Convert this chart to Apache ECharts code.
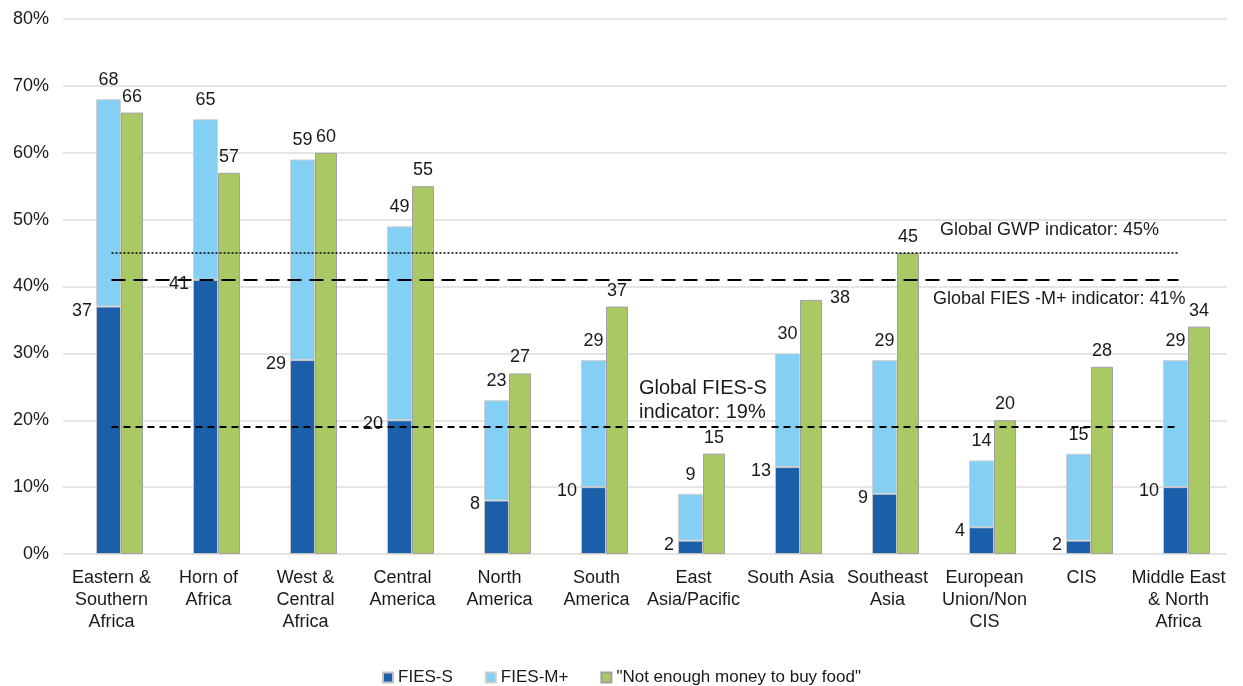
<!DOCTYPE html>
<html>
<head>
<meta charset="utf-8">
<script src="https://cdn.jsdelivr.net/npm/echarts@6/dist/echarts.min.js"></script>
<style>
  html, body { margin: 0; padding: 0; background: #ffffff; }
  #chart { width: 1243px; height: 686px; }
</style>
</head>
<body>
<div id="chart"></div>
<script>
// Regions shown along the category axis (line breaks as printed)
const regions = [
  'Eastern &\nSouthern\nAfrica',
  'Horn of\nAfrica',
  'West &\nCentral\nAfrica',
  'Central\nAmerica',
  'North\nAmerica',
  'South\nAmerica',
  'East\nAsia/Pacific',
  'South Asia',
  'Southeast\nAsia',
  'European\nUnion/Non\nCIS',
  'CIS',
  'Middle East\n& North\nAfrica'
];

// Prevalence of severe food insecurity (FIES-S), %
const fiesS = [37, 41, 29, 20, 8, 10, 2, 13, 9, 4, 2, 10];
// Prevalence of moderate-or-severe food insecurity (FIES-M+), %
const fiesM = [68, 65, 59, 49, 23, 29, 9, 30, 29, 14, 15, 29];
// Share answering "Not enough money to buy food", %
const noMoney = [66, 57, 60, 55, 27, 37, 15, 38, 45, 20, 28, 34];

// Global reference levels, %
const globalGWP = 45;
const globalFiesM = 41;
const globalFiesS = 19;

// Y axis ticks
const yMin = 0, yMax = 80, yStep = 10;

const FONT = '"Liberation Sans", Arial, sans-serif';
const INK = '#1a1a1a';

// Moderate part of the stack = FIES-M+ minus FIES-S, so the stack tops at FIES-M+
const moderateOnly = fiesM.map((v, i) => v - fiesS[i]);

// South Asia's green label sits to the right of its bar
const greenData = noMoney.map((v, i) => {
  if (i === 7) {
    return {
      value: v,
      label: { position: ['100%', 0], offset: [8, -2], align: 'left', verticalAlign: 'middle' }
    };
  }
  return v;
});

const first = regions[0], last = regions[regions.length - 1];
const refLine = (val, type, width) => ([
  { coord: [first, val], lineStyle: { type: type, width: width, color: '#000' } },
  { coord: [last, val] }
]);

const chart = echarts.init(document.getElementById('chart'), null, { renderer: 'canvas' });

chart.setOption({
  animation: false,
  textStyle: { fontFamily: FONT, color: INK },
  grid: { left: 63, right: 16, top: 19, bottom: 132, containLabel: false },
  legend: {
    data: ['FIES-S', 'FIES-M+', '"Not enough money to buy food"'],
    top: 664,
    left: 'center',
    icon: 'rect',
    itemWidth: 10,
    itemHeight: 10,
    itemGap: 32,
    textStyle: { fontFamily: FONT, fontSize: 17, color: INK }
  },
  xAxis: {
    type: 'category',
    data: regions,
    axisLine: { show: false },
    axisTick: { show: false },
    axisLabel: {
      interval: 0,
      margin: 13,
      fontFamily: FONT,
      fontSize: 18,
      lineHeight: 22,
      color: INK,
      align: 'center'
    }
  },
  yAxis: {
    type: 'value',
    min: yMin,
    max: yMax,
    interval: yStep,
    axisLine: { show: false },
    axisTick: { show: false },
    axisLabel: {
      formatter: '{value}%',
      margin: 14,
      fontFamily: FONT,
      fontSize: 18,
      color: INK
    },
    splitLine: { lineStyle: { color: '#dddddd', width: 1.5 } }
  },
  series: [
    {
      // empty leading slot: shifts the bar pair to the right within each category
      name: 'slot',
      type: 'bar',
      data: [],
      barWidth: 16,
      barGap: '0%',
      silent: true
    },
    {
      name: 'FIES-S',
      type: 'bar',
      stack: 'fies',
      data: fiesS,
      barWidth: 25,
      barGap: '0%',
      itemStyle: { color: '#1b5faa', borderColor: '#c4c4c4', borderWidth: 1 },
      label: {
        show: true,
        position: [-4, 4],
        align: 'right',
        verticalAlign: 'middle',
        fontFamily: FONT,
        fontSize: 18,
        color: INK
      }
    },
    {
      name: 'FIES-M+',
      type: 'bar',
      stack: 'fies',
      data: moderateOnly,
      barWidth: 25,
      barGap: '0%',
      itemStyle: { color: '#84cff4', borderColor: '#d0d0d0', borderWidth: 1 },
      label: {
        show: true,
        position: 'top',
        distance: 10,
        fontFamily: FONT,
        fontSize: 18,
        color: INK,
        formatter: p => String(fiesM[p.dataIndex])
      }
    },
    {
      name: '"Not enough money to buy food"',
      type: 'bar',
      data: greenData,
      barWidth: 22,
      barGap: '0%',
      itemStyle: { color: '#a8c964', borderColor: '#a0a0a0', borderWidth: 1 },
      label: {
        show: true,
        position: 'top',
        distance: 7,
        fontFamily: FONT,
        fontSize: 18,
        color: INK
      }
    },
    {
      // carrier for the global reference lines, placed on category centres
      name: 'reference',
      type: 'line',
      data: [],
      silent: true,
      markLine: {
        silent: true,
        symbol: 'none',
        z: 10,
        label: { show: false },
        data: [
          refLine(globalGWP, [2, 2], 1.5),
          refLine(globalFiesM, [14, 8], 2),
          refLine(globalFiesS, [7, 5], 2)
        ]
      }
    }
  ],
  graphic: [
    {
      type: 'text',
      left: 940,
      top: 221,
      style: { text: 'Global GWP indicator: ' + globalGWP + '%', font: '18px ' + FONT, fill: INK }
    },
    {
      type: 'text',
      left: 933,
      top: 290,
      style: { text: 'Global FIES -M+ indicator: ' + globalFiesM + '%', font: '18px ' + FONT, fill: INK }
    },
    {
      type: 'text',
      left: 639,
      top: 376,
      style: {
        text: 'Global FIES-S\nindicator: ' + globalFiesS + '%',
        font: '20px ' + FONT,
        lineHeight: 24,
        fill: INK
      }
    }
  ]
});
</script>
</body>
</html>
